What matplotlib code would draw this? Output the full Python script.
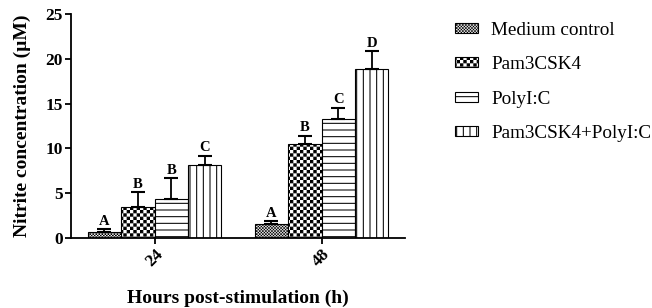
import numpy as np
import matplotlib
matplotlib.use('Agg')
import matplotlib.pyplot as plt
import matplotlib.hatch as mhatch
from matplotlib.path import Path
from functools import partial

# data
hours = ['24', '48']
groups = ['Medium control', 'Pam3CSK4', 'PolyI:C', 'Pam3CSK4+PolyI:C']
medium = [0.6, 1.5]
medium_err = [0.34, 0.33]
pam = [3.47, 10.48]
pam_err = [1.61, 0.93]
poly = [4.33, 13.28]
poly_err = [2.31, 1.26]
combo = [8.17, 18.84]
combo_err = [1.0, 2.04]
letters_24 = ['A', 'B', 'B', 'C']
letters_48 = ['A', 'B', 'C', 'D']

plt.rcParams['font.family'] = ['Liberation Serif', 'DejaVu Serif']
HATCH_LW = 0.75
plt.rcParams['hatch.linewidth'] = HATCH_LW
plt.rcParams['hatch.color'] = 'black'
INSET = HATCH_LW / 144.0  # half the hatch stroke, in hatch-cell units


# custom hatches: fine lines and checkerboards
class Lines:
    def __init__(self, hatch, density, char='-', n=15, vertical=False):
        self.n = n if char in hatch else 0
        self.vertical = vertical
        self.num_vertices = 2 * self.n

    def set_vertices_and_codes(self, vertices, codes):
        pos = (np.arange(self.n) + 0.5) / self.n
        a, b = (1, 0) if self.vertical else (0, 1)
        vertices[0::2, a] = 0.0
        vertices[1::2, a] = 1.0
        vertices[0::2, b] = pos
        vertices[1::2, b] = pos
        codes[0::2] = Path.MOVETO
        codes[1::2] = Path.LINETO


class Checker:
    def __init__(self, hatch, density, char='o', n=15):
        self.n = n if char in hatch else 0
        self.num_vertices = self.n * self.n * 2 * 5

    def set_vertices_and_codes(self, vertices, codes):
        s = 1.0 / (2 * self.n)
        d = min(INSET, s * 0.4)
        i, j = np.meshgrid(np.arange(self.n), np.arange(self.n))
        i = i.ravel() * 2 * s
        j = j.ravel() * 2 * s
        x0 = np.concatenate([i, i + s]) + d
        y0 = np.concatenate([j, j + s]) + d
        w = s - 2 * d
        sq = np.array([[0, 0], [1, 0], [1, 1], [0, 1], [0, 0]], float)
        v = np.empty((len(x0), 5, 2))
        v[:, :, 0] = x0[:, None] + sq[:, 0] * w
        v[:, :, 1] = y0[:, None] + sq[:, 1] * w
        vertices[:] = v.reshape(-1, 2)
        c = [Path.MOVETO, Path.LINETO, Path.LINETO, Path.LINETO, Path.CLOSEPOLY]
        codes[:] = np.tile(c, len(x0))


mhatch._hatch_types = [partial(Lines, char='-'),
                       partial(Lines, char='|', vertical=True),
                       partial(Checker, char='o', n=15),
                       partial(Checker, char='.', n=33)]

series = [medium, pam, poly, combo]
errors = [medium_err, pam_err, poly_err, combo_err]
hatches = ['.', 'o', '-', '|']
letters = [list(t) for t in zip(letters_24, letters_48)]

fig = plt.figure(figsize=(6.52, 3.08), dpi=100)
ax = fig.add_axes([71 / 652, 1 - 237.7 / 308, 334 / 652, (237.7 - 14.3) / 308])

x = np.arange(len(hours))
width = 0.2
handles = []
for k, (vals, errs, h) in enumerate(zip(series, errors, hatches)):
    pos = x + (k - 1.5) * width
    b = ax.bar(pos, vals, width, color='white', edgecolor='black',
               linewidth=0.8, hatch=h, label=groups[k], zorder=2)
    handles.append(b)
    ax.errorbar(pos, vals, yerr=[np.zeros(len(vals)), errs], fmt='none',
                ecolor='black', elinewidth=1.3, capsize=5.2, capthick=1.5,
                zorder=3)
    for p, v, e, lab in zip(pos, vals, errs, letters[k]):
        ax.annotate(lab, (p, v + e), xytext=(0, 1), textcoords='offset points',
                    ha='center', va='bottom', fontsize=10.5, fontweight='bold')

ax.set_xlim(-0.5, 1.5)
ax.set_ylim(0, 25)
ax.set_yticks([0, 5, 10, 15, 20, 25])
ax.set_xticks(x)
ax.set_xticklabels(hours, rotation=45, fontsize=12.5, fontweight='bold')
for t in ax.get_yticklabels():
    t.set_fontsize(12.5)
    t.set_fontweight('bold')
ax.spines['top'].set_visible(False)
ax.spines['right'].set_visible(False)
ax.spines['left'].set_linewidth(1.3)
ax.spines['bottom'].set_linewidth(1.3)
ax.tick_params(width=1.3, length=4, pad=2)
ax.set_xlabel('Hours post-stimulation (h)', fontsize=14, fontweight='bold')
ax.set_ylabel('Nitrite concentration (µM)', fontsize=14, fontweight='bold')
ax.xaxis.set_label_coords(0.5, -0.232)
ax.yaxis.set_label_coords(-0.12, 0.5)

fig.legend(handles, groups, loc='upper left',
           bbox_to_anchor=(455 / 652, 1 - 22 / 308), frameon=False,
           fontsize=13.8, handlelength=1.2, handleheight=0.42,
           handletextpad=0.7, labelspacing=0.9, borderpad=0,
           borderaxespad=0)

fig.savefig('out.png', dpi=100)
